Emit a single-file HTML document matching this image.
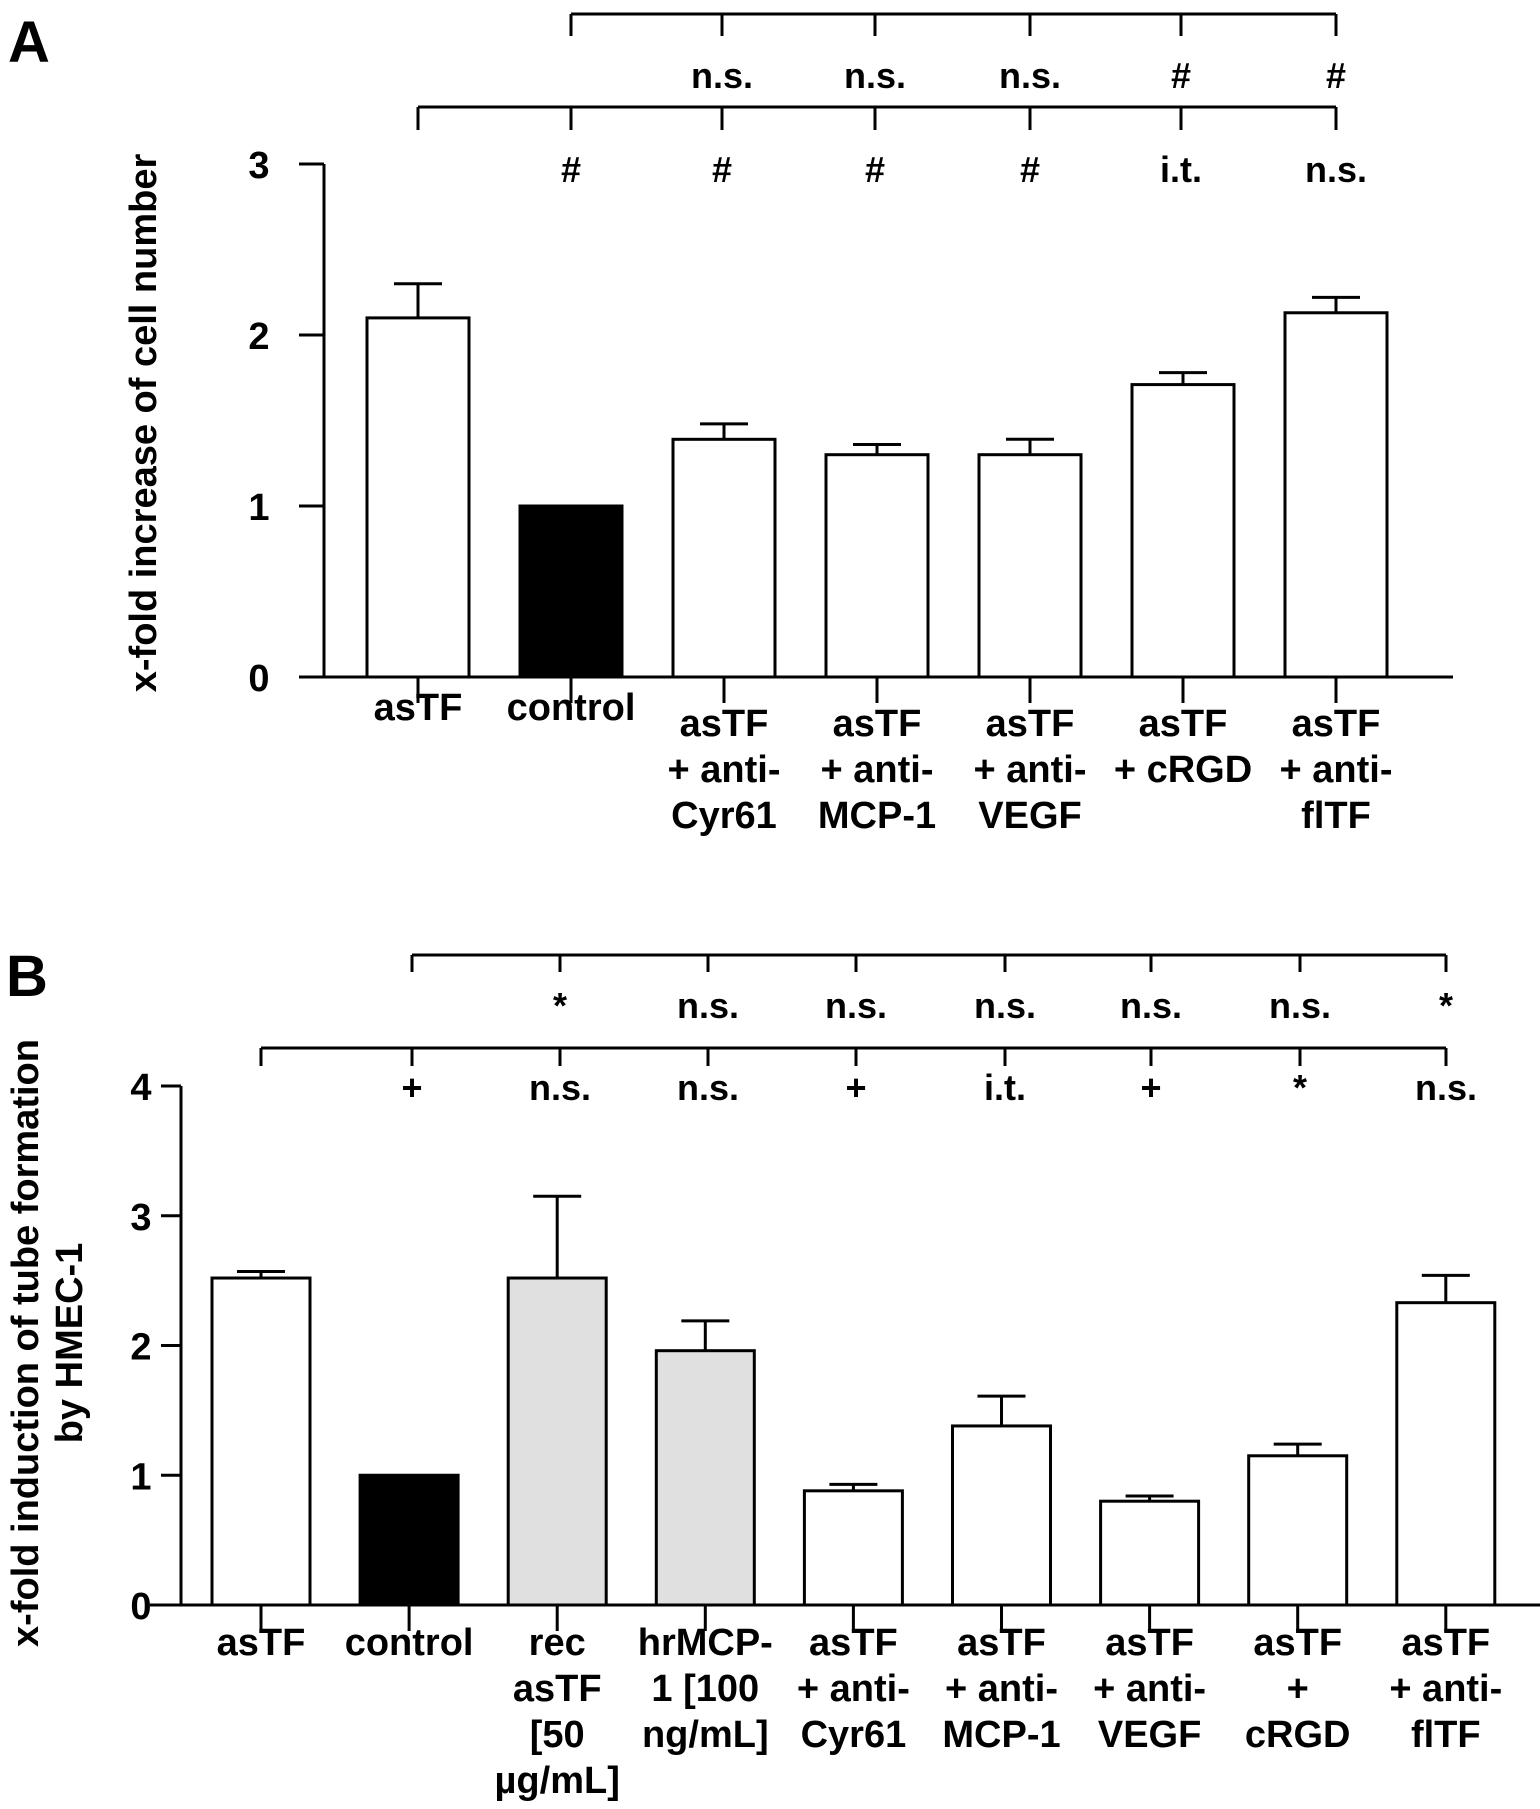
<!DOCTYPE html>
<html><head><meta charset="utf-8">
<style>
html,body{margin:0;padding:0;background:#fff;}
svg{display:block;}
text{font-family:"Liberation Sans",Arial,sans-serif;font-weight:bold;fill:#000;}
</style></head>
<body>
<svg id="chart" width="1540" height="1809" viewBox="0 0 1540 1809" xmlns="http://www.w3.org/2000/svg">
<text x="8" y="62" font-size="58">A</text>
<text x="6" y="996" font-size="58">B</text>
<text transform="translate(156,423) rotate(-90)" text-anchor="middle" font-size="38">x-fold increase of cell number</text>
<text transform="translate(38,1343) rotate(-90)" text-anchor="middle" font-size="38">x-fold induction of tube formation</text>
<text transform="translate(82,1343) rotate(-90)" text-anchor="middle" font-size="38">by HMEC-1</text>
</svg>
<script>
// Panel A data
const catsA = [["asTF"],["control"],["asTF","+ anti-","Cyr61"],["asTF","+ anti-","MCP-1"],["asTF","+ anti-","VEGF"],["asTF","+ cRGD"],["asTF","+ anti-","flTF"]];
const valsA = [2.1,1.0,1.39,1.3,1.3,1.71,2.13];
const errA = [2.3,1.0,1.48,1.36,1.39,1.78,2.22];
const fillA = ["#fff","#000","#fff","#fff","#fff","#fff","#fff"];
const ticksA = [0,1,2,3];
const sigTopA = ["n.s.","n.s.","n.s.","#","#"];
const sigLowA = ["#","#","#","#","i.t.","n.s."];
// Panel B data
const catsB = [["asTF"],["control"],["rec","asTF","[50","µg/mL]"],["hrMCP-","1 [100","ng/mL]"],["asTF","+ anti-","Cyr61"],["asTF","+ anti-","MCP-1"],["asTF","+ anti-","VEGF"],["asTF","+","cRGD"],["asTF","+ anti-","flTF"]];
const valsB = [2.52,1.0,2.52,1.96,0.88,1.38,0.80,1.15,2.33];
const errB = [2.57,1.0,3.15,2.19,0.93,1.61,0.84,1.24,2.54];
const fillB = ["#fff","#000","#e0e0e0","#e0e0e0","#fff","#fff","#fff","#fff","#fff"];
const ticksB = [0,1,2,3,4];
const sigTopB = ["*","n.s.","n.s.","n.s.","n.s.","n.s.","*"];
const sigLowB = ["+","n.s.","n.s.","+","i.t.","+","*","n.s."];

const svg = document.getElementById('chart');
const NS = 'http://www.w3.org/2000/svg';
function mk(tag, attrs){const e=document.createElementNS(NS,tag);for(const k in attrs)e.setAttribute(k,attrs[k]);svg.appendChild(e);return e;}

function panel(cfg){
  const {cats,vals,errs,fills,ticks,x0,step,bw,axX,axL,axR,y0,ppu,ymax,lab0,labStep,singleOff,tickLabX,tickLen,p} = cfg;
  const xs = i => x0 + i*step;
  const ys = v => y0 - v*ppu;
  let e = mk('line',{x1:axX,y1:y0,x2:axX,y2:ys(ymax),stroke:'#000','stroke-width':3});
  
  
  e = mk('line',{x1:axL,y1:y0,x2:axR,y2:y0,stroke:'#000','stroke-width':3});
  
  
  ticks.forEach(t=>{
    let l=mk('line',{x1:axX-tickLen,y1:ys(t),x2:axX,y2:ys(t),stroke:'#000','stroke-width':3});
    
    
    let tx=mk('text',{x:tickLabX,y:ys(t)+14,'font-size':38,'text-anchor':'middle'});
    tx.textContent=t;
    
    
  });
  vals.forEach((v,i)=>{
    const cx=xs(i);
    if(errs[i]>v){
      let el=mk('line',{x1:cx,y1:ys(v),x2:cx,y2:ys(errs[i]),stroke:'#000','stroke-width':3});
      
      
      let ec=mk('line',{x1:cx-24,y1:ys(errs[i]),x2:cx+24,y2:ys(errs[i]),stroke:'#000','stroke-width':3});
      
      
    }
    let r=mk('rect',{x:cx-bw/2,y:ys(v),width:bw,height:v*ppu,fill:fills[i],stroke:'#000','stroke-width':3});
    
    
    let tk=mk('line',{x1:cx,y1:y0,x2:cx,y2:y0+26,stroke:'#000','stroke-width':3});
    
    
    cats[i].forEach((s,j)=>{
      let t=mk('text',{x:cx,y:lab0+(cats[i].length===1?singleOff:0)+j*labStep,'font-size':38,'text-anchor':'middle'});
      t.textContent=s;
      
      
    });
  });
}
function bracket(p,xsArr,yLine,yTick,labels,labY){
  let l=mk('line',{x1:xsArr[0],y1:yLine,x2:xsArr[xsArr.length-1],y2:yLine,stroke:'#000','stroke-width':3});
  
  
  xsArr.forEach((x,i)=>{
    let t=mk('line',{x1:x,y1:yLine,x2:x,y2:yTick,stroke:'#000','stroke-width':3});
    
    
    if(i>0 && labels[i-1]){
      let tx=mk('text',{x:x,y:labY,'font-size':36,'text-anchor':'middle'});
      tx.textContent=labels[i-1];
      
      
    }
  });
}
panel({cats:catsA,vals:valsA,errs:errA,fills:fillA,ticks:ticksA,x0:418,step:153,bw:102,axX:324,axL:299,axR:1453,y0:677,ppu:171,ymax:3,lab0:736,labStep:46,singleOff:-16,tickLabX:259,tickLen:25,p:'a'});
panel({cats:catsB,vals:valsB,errs:errB,fills:fillB,ticks:ticksB,x0:261,step:148.1,bw:98,axX:181,axL:150,axR:1540,y0:1605,ppu:129.75,ymax:4,lab0:1655,labStep:46,singleOff:0,tickLabX:141,tickLen:20,p:'b'});
const bxA=[418,571,722,875,1030,1181,1336];
bracket('a-top',bxA.slice(1),14,36,sigTopA,88);
bracket('a-low',bxA,107,130,sigLowA,182);
const bxB=[261,412,560,708,856,1005,1151,1300,1446];
bracket('b-top',bxB.slice(1),955,972,sigTopB,1018);
bracket('b-low',bxB,1048,1066,sigLowB,1100);
</script>
</body></html>
